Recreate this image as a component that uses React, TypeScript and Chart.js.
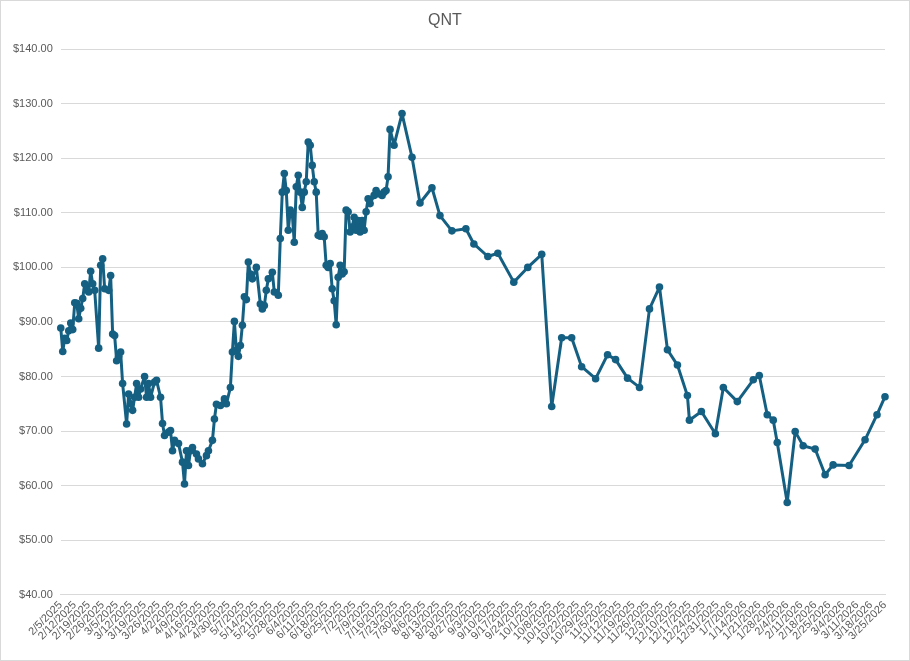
import React, { useEffect, useRef } from "react";
import { Chart, registerables } from "chart.js";

Chart.register(...registerables);

const title = "QNT";
const startDate = "2025-02-05";
const endDate = "2026-03-25";
const tickStepDays = 7;
const yMin = 40;
const yMax = 140;
const yStep = 10;

const dates: string[] = [
  "2025-02-05","2025-02-06","2025-02-07","2025-02-08","2025-02-09","2025-02-10","2025-02-11","2025-02-12","2025-02-13","2025-02-14",
  "2025-02-15","2025-02-16","2025-02-17","2025-02-18","2025-02-19","2025-02-20","2025-02-21","2025-02-22","2025-02-24","2025-02-25",
  "2025-02-26","2025-02-27","2025-03-01","2025-03-02","2025-03-03","2025-03-04","2025-03-05","2025-03-06","2025-03-07","2025-03-08",
  "2025-03-10","2025-03-11","2025-03-12","2025-03-13","2025-03-14","2025-03-15","2025-03-16","2025-03-17","2025-03-19","2025-03-20",
  "2025-03-21","2025-03-22","2025-03-24","2025-03-25","2025-03-27","2025-03-28","2025-03-29","2025-03-31","2025-04-01","2025-04-02",
  "2025-04-03","2025-04-05","2025-04-07","2025-04-08","2025-04-09","2025-04-10","2025-04-11","2025-04-12","2025-04-14","2025-04-15",
  "2025-04-17","2025-04-19","2025-04-20","2025-04-22","2025-04-23","2025-04-24","2025-04-26","2025-04-28","2025-04-29","2025-05-01",
  "2025-05-02","2025-05-03","2025-05-04","2025-05-05","2025-05-06","2025-05-07","2025-05-08","2025-05-09","2025-05-10","2025-05-11",
  "2025-05-12","2025-05-14","2025-05-16","2025-05-17","2025-05-18","2025-05-19","2025-05-20","2025-05-22","2025-05-23","2025-05-25",
  "2025-05-26","2025-05-27","2025-05-28","2025-05-29","2025-05-30","2025-05-31","2025-06-01","2025-06-02","2025-06-03","2025-06-04",
  "2025-06-05","2025-06-06","2025-06-07","2025-06-08","2025-06-09","2025-06-10","2025-06-11","2025-06-12","2025-06-13","2025-06-14",
  "2025-06-15","2025-06-16","2025-06-17","2025-06-18","2025-06-19","2025-06-20","2025-06-21","2025-06-22","2025-06-23","2025-06-24",
  "2025-06-25","2025-06-26","2025-06-27","2025-06-28","2025-06-29","2025-06-30","2025-07-01","2025-07-02","2025-07-03","2025-07-04",
  "2025-07-05","2025-07-06","2025-07-07","2025-07-08","2025-07-09","2025-07-10","2025-07-12","2025-07-13","2025-07-14","2025-07-16",
  "2025-07-17","2025-07-18","2025-07-19","2025-07-20","2025-07-22","2025-07-26","2025-07-31","2025-08-04","2025-08-10","2025-08-14",
  "2025-08-20","2025-08-27","2025-08-31","2025-09-07","2025-09-12","2025-09-20","2025-09-27","2025-10-04","2025-10-09","2025-10-14",
  "2025-10-19","2025-10-24","2025-10-31","2025-11-06","2025-11-10","2025-11-16","2025-11-22","2025-11-27","2025-12-02","2025-12-06",
  "2025-12-11","2025-12-16","2025-12-17","2025-12-23","2025-12-30","2026-01-03","2026-01-10","2026-01-18","2026-01-21","2026-01-25",
  "2026-01-28","2026-01-30","2026-02-04","2026-02-08","2026-02-12","2026-02-18","2026-02-23","2026-02-27","2026-03-07","2026-03-15",
  "2026-03-21","2026-03-25",
];

const prices: number[] = [
  88.9, 84.6, 87.0, 86.6, 88.4, 89.8, 88.6, 93.5, 93.4, 90.6,
  92.5, 94.3, 97.0, 96.0, 95.5, 99.3, 97.0, 95.8, 85.2, 100.4,
  101.6, 96.1, 95.8, 98.5, 87.8, 87.5, 82.9, 83.7, 84.5, 78.7,
  71.3, 76.8, 75.0, 73.8, 76.2, 78.7, 76.2, 77.7, 80.0, 76.2,
  78.7, 76.2, 79.0, 79.3, 76.2, 71.4, 69.2, 69.8, 70.1, 66.4,
  68.3, 67.7, 64.3, 60.3, 66.4, 63.7, 66.4, 67.0, 65.8, 64.9,
  64.0, 65.5, 66.4, 68.3, 72.2, 74.9, 74.7, 75.9, 75.0, 78.0,
  84.5, 90.1, 84.8, 83.7, 85.7, 89.4, 94.6, 94.1, 101.0, 98.8,
  97.9, 100.0, 93.3, 92.4, 93.0, 95.8, 97.9, 99.1, 95.5, 94.9,
  105.3, 113.8, 117.2, 114.1, 106.8, 110.5, 109.8, 104.6, 114.8, 116.9,
  113.8, 111.0, 113.8, 115.7, 123.0, 122.4, 118.7, 115.7, 113.8, 105.9,
  105.7, 106.2, 105.6, 100.4, 100.0, 100.7, 96.1, 93.9, 89.5, 98.2,
  100.4, 98.8, 99.2, 110.5, 110.2, 106.5, 107.4, 109.2, 106.8, 108.6,
  106.5, 108.6, 106.8, 110.2, 112.6, 111.7, 113.2, 114.1, 113.5, 113.2,
  113.8, 114.1, 116.6, 125.3, 122.4, 128.2, 120.2, 111.8, 114.6, 109.5,
  106.7, 107.1, 104.3, 102.0, 102.6, 97.3, 100.0, 102.4, 74.5, 87.1,
  87.1, 81.8, 79.6, 84.0, 83.1, 79.7, 78.0, 92.4, 96.4, 84.9,
  82.1, 76.5, 72.0, 73.6, 69.5, 78.0, 75.4, 79.4, 80.2, 73.0,
  72.0, 67.9, 56.9, 69.9, 67.3, 66.7, 62.0, 63.8, 63.7, 68.4,
  73.0, 76.3,
];

const DAY = 86400000;
function toUTC(s: string): number {
  const [y, m, d] = s.split("-").map(Number);
  return Date.UTC(y, m - 1, d);
}
const startMs = toUTC(startDate);
function dayIndex(s: string): number {
  return Math.round((toUTC(s) - startMs) / DAY);
}
function labelFor(day: number): string {
  const dt = new Date(startMs + day * DAY);
  return `${dt.getUTCMonth() + 1}/${dt.getUTCDate()}/${dt.getUTCFullYear()}`;
}

export default function App() {
  const ref = useRef<HTMLCanvasElement | null>(null);
  useEffect(() => {
    document.body.style.margin = "0";
    if (!ref.current) return;
    const lastDay = dayIndex(endDate);
    const points = dates.map((d, i) => ({ x: dayIndex(d), y: prices[i] }));
    const tickDays: number[] = [];
    for (let d = 0; d <= lastDay; d += tickStepDays) tickDays.push(d);
    const font = "'Liberation Sans', Arial, sans-serif";
    const chart = new Chart(ref.current, {
      type: "line",
      data: {
        datasets: [
          {
            label: title,
            data: points,
            borderColor: "#156082",
            backgroundColor: "#156082",
            borderWidth: 3,
            borderJoinStyle: "round",
            borderCapStyle: "round",
            pointRadius: 3.8,
            pointBorderWidth: 0,
            pointBackgroundColor: "#156082",
            tension: 0,
            clip: false,
          },
        ],
      },
      options: {
        animation: false,
        responsive: true,
        maintainAspectRatio: false,
        layout: { padding: { left: 4, right: 24, top: 6, bottom: 9 } },
        plugins: {
          legend: { display: false },
          tooltip: { enabled: false },
          title: {
            display: true,
            text: title,
            color: "#595959",
            font: { family: font, size: 16, weight: "normal" },
            padding: { top: 4, bottom: 19 },
          },
        },
        scales: {
          x: {
            type: "linear",
            min: 0,
            max: lastDay,
            afterBuildTicks: (scale: any) => {
              scale.ticks = tickDays.map((v) => ({ value: v }));
            },
            grid: { display: false, drawTicks: false },
            border: { display: true, color: "#d9d9d9" },
            ticks: {
              autoSkip: false,
              maxRotation: 45,
              minRotation: 45,
              padding: 4,
              color: "#595959",
              font: { family: font, size: 11 },
              callback: (v: any) => labelFor(Number(v)),
            },
          },
          y: {
            min: yMin,
            max: yMax,
            grid: { color: "#d9d9d9", drawTicks: false },
            border: { display: false },
            ticks: {
              stepSize: yStep,
              padding: 8,
              color: "#595959",
              font: { family: font, size: 11 },
              callback: (v: any) => `$${Number(v).toFixed(2)}`,
            },
          },
        },
      },
    });
    return () => chart.destroy();
  }, []);
  return (
    <div
      style={{
        position: "absolute",
        left: 0,
        top: 0,
        width: 910,
        height: 661,
        boxSizing: "border-box",
        border: "1px solid #d9d9d9",
        background: "#fff",
      }}
    >
      <canvas ref={ref} />
    </div>
  );
}
